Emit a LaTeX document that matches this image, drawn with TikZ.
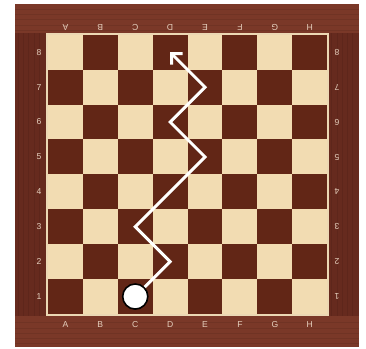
\documentclass[tikz,border=0pt]{standalone}
\usepackage{fontspec}
\setsansfont{Liberation Sans}
\usetikzlibrary{arrows.meta}
\definecolor{frame}{RGB}{122,56,40}
\definecolor{frameside}{RGB}{102,42,30}
\definecolor{darksq}{RGB}{98,38,22}
\definecolor{lightsq}{RGB}{242,220,178}
\definecolor{rim}{RGB}{236,216,180}
\definecolor{ink}{RGB}{230,208,190}
\tikzset{>=Straight Barb,every node/.style={font=\sffamily\scriptsize},coord/.style={text=ink},route/.style={white,line width=2.4pt,->},piece/.style={circle,draw=black,fill=white,line width=1.3pt,minimum size=0.72cm,inner sep=0pt}}

\begin{document}
\begin{tikzpicture}
\useasboundingbox (-1.375,-1.003) rectangle (9.112,8.997);
% frame
\fill[frame] (-0.95,-0.95) rectangle (8.92,8.88);
\fill[frameside] (-0.95,-0.06) rectangle (-0.06,8.06);
\fill[frameside] (8.06,-0.06) rectangle (8.92,8.06);
\foreach \y in {-0.85,-0.7,...,-0.15}{
 \draw[black,opacity=.08,line width=.6pt] (-0.95,\y) -- (8.92,\y);
 \draw[black,opacity=.08,line width=.6pt] (-0.95,\y+8.98) -- (8.92,\y+8.98);}
\foreach \x in {-0.85,-0.7,...,-0.15}{
 \draw[black,opacity=.08,line width=.6pt] (\x,-0.06) -- (\x,8.06);
 \draw[black,opacity=.08,line width=.6pt] (\x+8.98,-0.06) -- (\x+8.98,8.06);}
% board
\fill[rim] (-0.06,-0.06) rectangle (8.06,8.06);
\foreach \i in {0,...,7}
 \foreach \j in {0,...,7}{
  \pgfmathtruncatemacro\odd{mod(\i+\j,2)}
  \ifnum\odd=0 \def\sq{darksq}\else\def\sq{lightsq}\fi
  \fill[\sq] (\i,\j) rectangle ++(1,1);}
% coordinates
\foreach \l [count=\i from 0] in {A,B,C,D,E,F,G,H}{
 \node[coord] (bot\l) at (\i+.5,-.29) {\l};
 \node[coord,rotate=180] (top\l) at (\i+.5,8.22) {\l};}
\foreach \n in {1,...,8}{
 \node[coord] (left\n) at (-.26,\n-.5) {\n};
 \node[coord,rotate=180] (right\n) at (8.28,\n-.5) {\n};}
% route
\node[piece] (start) at (2.5,.5) {};
\foreach \s/\x/\y in {d2/3.5/1.5,c3/2.5/2.5,e5/4.5/4.5,d6/3.5/5.5,e7/4.5/6.5,d8/3.5/7.5}
 \coordinate (\s) at (\x,\y);
\draw[route] (start) -- (d2) -- (c3) -- (e5) -- (d6) -- (e7) -- (d8);
\end{tikzpicture}
\end{document}
